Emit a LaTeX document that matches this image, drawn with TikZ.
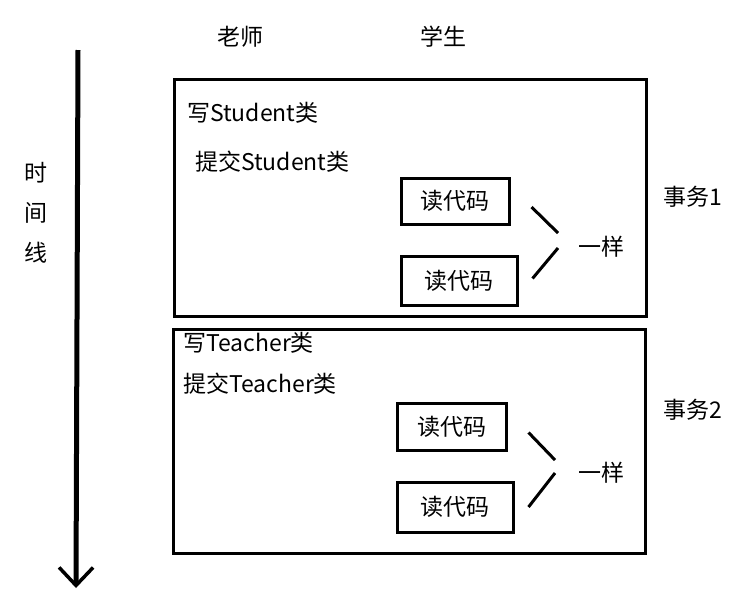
\documentclass[tikz,border=0pt]{standalone}
\usepackage{fontspec}
\setmainfont{Noto Sans CJK SC}
\usetikzlibrary{arrows.meta}

\begin{document}
\begin{tikzpicture}[x=1pt,y=-1pt,font=\fontsize{23}{27}\selectfont,
  wenzi/.style={inner sep=0pt,anchor=west},
  daima/.style={draw,line width=3pt,inner sep=0pt},
  xian/.style={line width=3pt}]
\useasboundingbox (0,0) rectangle (751,595);
% time line
\draw[line width=5pt,-{Straight Barb[length=18pt,width=34pt,line width=3.5pt]}](78,50)--(76,588);
\node[inner sep=0pt,align=center,font=\fontsize{23}{40}\selectfont](shijian) at (36,213){时\\间\\线};
\node[inner sep=0pt](laoshi) at (240,37){老师};
\node[inner sep=0pt](xuesheng) at (443,37){学生};
% first transaction
\draw[line width=3pt](174,79) rectangle (646,316);
\node[wenzi](xieS) at (187,113){写Student类};
\node[wenzi](tijiaoS) at (195,162){提交Student类};
\node[daima,minimum width=108,minimum height=46](du1) at (455,201){读代码};
\node[daima,minimum width=116,minimum height=49](du2) at (459,280.5){读代码};
\node[wenzi](yiyang1) at (578,247){一样};
\draw[xian]([shift={(21,6)}]du1.east)--([shift={(-20,-14)}]yiyang1.west);
\draw[xian]([shift={(-20,1)}]yiyang1.west)--([shift={(14,-2)}]du2.east);
\node[wenzi](shiwu1) at (663,197){事务1};
% second transaction
\draw[line width=3pt](173,329) rectangle (645,553);
\node[wenzi](xieT) at (183,343){写Teacher类};
\node[wenzi](tijiaoT) at (183,384){提交Teacher类};
\node[daima,minimum width=109,minimum height=47](du3) at (451.5,426.5){读代码};
\node[daima,minimum width=116,minimum height=50](du4) at (455,507){读代码};
\node[wenzi](yiyang2) at (578,473){一样};
\draw[xian]([shift={(21,6)}]du3.east)--([shift={(-23,-13)}]yiyang2.west);
\draw[xian]([shift={(-23,0)}]yiyang2.west)--([shift={(14,0)}]du4.east);
\node[wenzi](shiwu2) at (663,410){事务2};
\end{tikzpicture}
\end{document}
